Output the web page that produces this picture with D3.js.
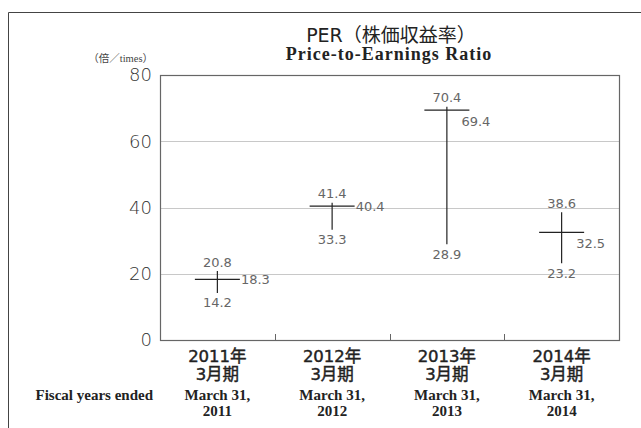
<!DOCTYPE html>
<html lang="ja">
<head>
  <meta charset="UTF-8" />
  <title>PER</title>
  <script src="https://d3js.org/d3.v7.min.js"></script>
  <style>
    body {
      margin: 0;
      background: #fff;
      overflow: hidden;
    }
    svg {
      display: block;
    }
    .jp {
      font-family: "DejaVu Sans", "Noto Sans CJK JP", sans-serif;
    }
    .en {
      font-family: "Liberation Serif", "DejaVu Serif", serif;
      font-weight: bold;
    }
  </style>
</head>
<body>

<svg id="chart" width="641" height="428"></svg>

<script>
// fiscal years (jp + en labels)
const years = ["2011年", "2012年", "2013年", "2014年"];
const yearSub = ["3月期", "3月期", "3月期", "3月期"];
const enYears = ["2011", "2012", "2013", "2014"];
// PER values: high / low / year end
const highs = [20.8, 41.4, 70.4, 38.6];
const lows = [14.2, 33.3, 28.9, 23.2];
const ends = [18.3, 40.4, 69.4, 32.5];
const yTicks = [0, 20, 40, 60, 80];

// where the year-end label goes
const endLabelPos = ["side", "side", "below", "below"];

const svg = d3.select("#chart");

const plot = { left: 160, right: 619, top: 75, bottom: 340 };

const x = d3.scaleBand()
  .domain(years)
  .range([plot.left, plot.right])
  .padding(0);

const y = d3.scaleLinear()
  .domain([0, 80])
  .range([plot.bottom, plot.top]);

// outer frame (open to the right and bottom)
svg.append("path")
  .attr("d", "M8.5,428 V12.5 H641")
  .attr("fill", "none")
  .attr("stroke", "#444")
  .attr("stroke-width", 1);

// title
svg.append("text")
  .attr("class", "jp")
  .attr("x", 391).attr("y", 42)
  .attr("text-anchor", "middle")
  .attr("font-size", 19)
  .attr("fill", "#222")
  .text("PER（株価収益率）");

svg.append("text")
  .attr("class", "en")
  .attr("x", 389).attr("y", 60)
  .attr("text-anchor", "middle")
  .attr("font-size", 18)
  .attr("letter-spacing", 1)
  .attr("fill", "#222")
  .text("Price-to-Earnings Ratio");

// unit
svg.append("text")
  .attr("x", 153).attr("y", 62)
  .attr("text-anchor", "end")
  .attr("font-size", 10.5)
  .attr("fill", "#444")
  .attr("font-family", "'Liberation Serif', 'Noto Sans CJK JP', serif")
  .text("（倍／times）");

// gridlines
svg.append("g")
  .selectAll("line")
  .data(yTicks.filter(d => d > 0 && d < 80))
  .join("line")
  .attr("x1", plot.left).attr("x2", plot.right)
  .attr("y1", d => Math.round(y(d)) + 0.5)
  .attr("y2", d => Math.round(y(d)) + 0.5)
  .attr("stroke", "#c8c8c8")
  .attr("stroke-width", 1);

// y axis labels
const yAxis = d3.axisLeft(y).tickValues(yTicks).tickSize(0).tickPadding(8);
const gy = svg.append("g")
  .attr("transform", `translate(${plot.left},0)`)
  .call(yAxis);
gy.select(".domain").remove();
gy.selectAll("text")
  .attr("class", "jp")
  .attr("font-size", 18)
  .attr("font-weight", 200)
  .attr("fill", "#333");

// plot frame
svg.append("rect")
  .attr("x", plot.left + 0.5).attr("y", plot.top + 0.5)
  .attr("width", plot.right - plot.left)
  .attr("height", plot.bottom - plot.top)
  .attr("fill", "none")
  .attr("stroke", "#666")
  .attr("stroke-width", 1.2);

// bottom category ticks (pointing up)
svg.append("g")
  .selectAll("line")
  .data(years.slice(1))
  .join("line")
  .attr("x1", d => Math.round(x(d)) + 0.5)
  .attr("x2", d => Math.round(x(d)) + 0.5)
  .attr("y1", plot.bottom)
  .attr("y2", plot.bottom - 6)
  .attr("stroke", "#666");

// x labels
const xl = svg.append("g");
years.forEach((yr, i) => {
  const cx = x(yr) + x.bandwidth() / 2;
  [yr, yearSub[i]].forEach((t, k) => {
    xl.append("text").attr("class", "jp")
      .attr("x", cx).attr("y", k === 0 ? 361.5 : 380)
      .attr("text-anchor", "middle")
      .attr("font-size", 16.5)
      .attr("fill", "#222")
      .attr("stroke", "#222").attr("stroke-width", 0.45)
      .text(t);
  });
  xl.append("text").attr("class", "en")
    .attr("x", cx).attr("y", 400)
    .attr("text-anchor", "middle")
    .attr("font-size", 15).attr("fill", "#222")
    .text("March 31,");
  xl.append("text").attr("class", "en")
    .attr("x", cx).attr("y", 416)
    .attr("text-anchor", "middle")
    .attr("font-size", 15).attr("fill", "#222")
    .text(enYears[i]);
});

svg.append("text").attr("class", "en")
  .attr("x", 153).attr("y", 400)
  .attr("text-anchor", "end")
  .attr("font-size", 15).attr("fill", "#222")
  .text("Fiscal years ended");

// high-low crosses
const half = 22.5;
const data = years.map((yr, i) => ({
  year: yr, high: highs[i], low: lows[i], end: ends[i], pos: endLabelPos[i]
}));

const g = svg.append("g")
  .selectAll("g")
  .data(data)
  .join("g")
  .attr("transform", d => `translate(${x(d.year) + x.bandwidth() / 2},0)`);

g.append("line")
  .attr("x1", 0).attr("x2", 0)
  .attr("y1", d => y(d.high)).attr("y2", d => y(d.low))
  .attr("stroke", "#222").attr("stroke-width", 1.2);

g.append("line")
  .attr("x1", -half).attr("x2", half)
  .attr("y1", d => y(d.end)).attr("y2", d => y(d.end))
  .attr("stroke", "#222").attr("stroke-width", 1.2);

const lab = (sel) => sel
  .attr("class", "jp")
  .attr("font-size", 13)
  .attr("fill", "#666")
  .attr("dominant-baseline", "central");

g.append("text").call(lab)
  .attr("x", 0).attr("y", d => y(d.high) - 9)
  .attr("text-anchor", "middle")
  .text(d => d.high.toFixed(1));

g.append("text").call(lab)
  .attr("x", 0).attr("y", d => y(d.low) + 10)
  .attr("text-anchor", "middle")
  .text(d => d.low.toFixed(1));

g.append("text").call(lab)
  .attr("x", d => d.pos === "side" ? half + 1 : half - 8)
  .attr("y", d => y(d.end) + (d.pos === "side" ? 0 : 11))
  .attr("text-anchor", "start")
  .text(d => d.end.toFixed(1));
</script>

</body>
</html>
